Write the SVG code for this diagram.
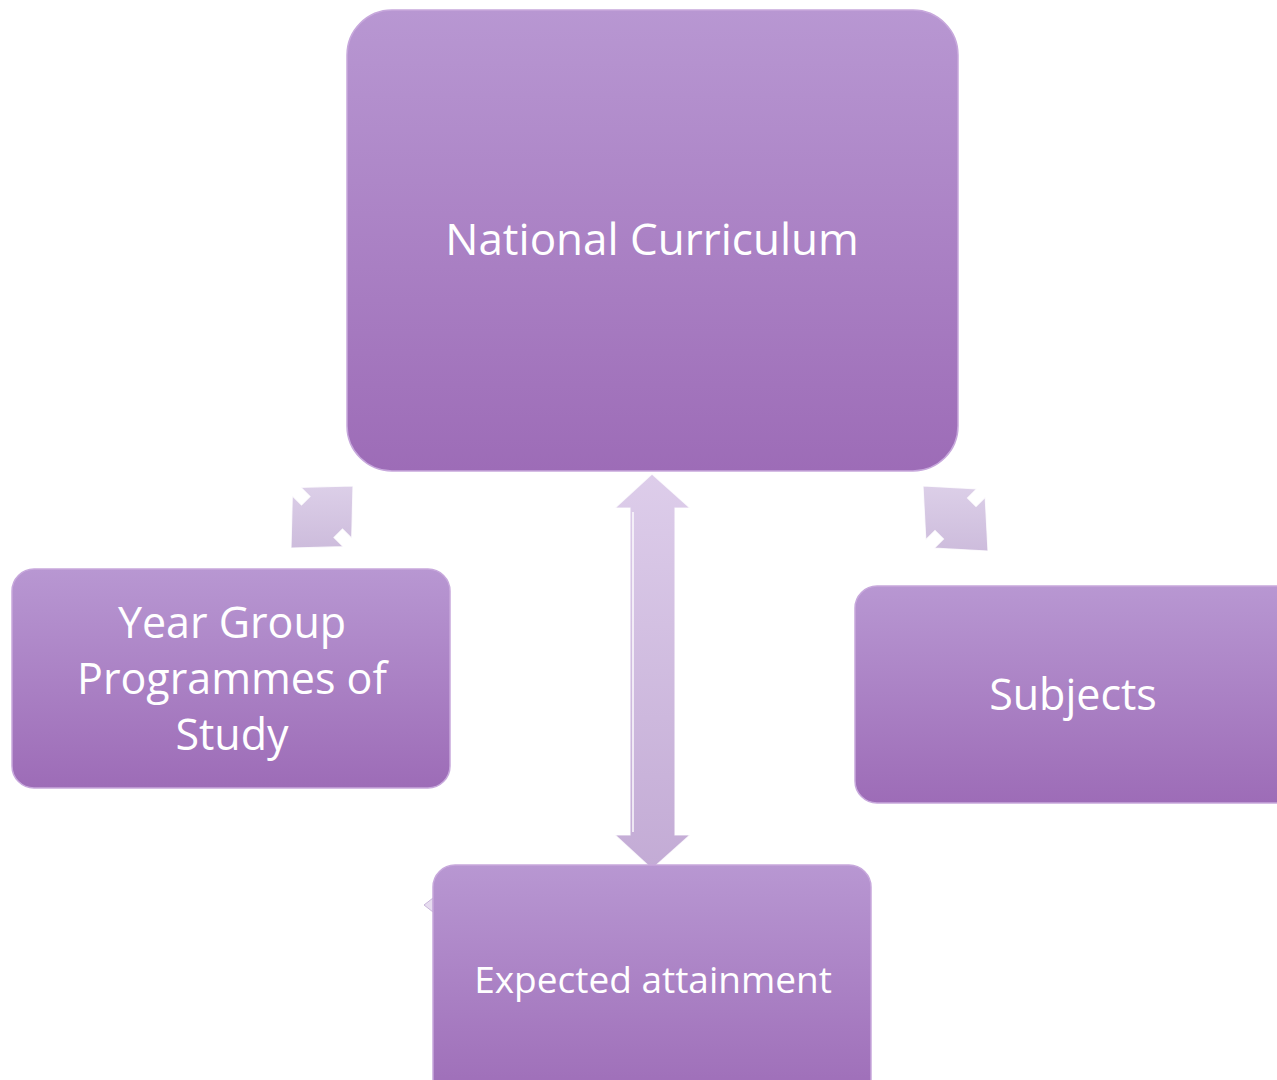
<svg xmlns="http://www.w3.org/2000/svg" width="1277" height="1080" viewBox="0 0 1277 1080">
<defs>
<linearGradient id="boxFill" x1="0" y1="0" x2="0" y2="1">
<stop offset="0" stop-color="#b897d2"/>
<stop offset="1" stop-color="#9d6cb7"/>
</linearGradient>
<linearGradient id="hl" x1="0" y1="0" x2="0" y2="1">
<stop offset="0" stop-color="#ffffff" stop-opacity="0.55"/>
<stop offset="1" stop-color="#ffffff" stop-opacity="0"/>
</linearGradient>
<linearGradient id="arrFill" x1="0" y1="0" x2="0" y2="1">
<stop offset="0" stop-color="#ddcdea"/>
<stop offset="1" stop-color="#c3abd5"/>
</linearGradient>
<linearGradient id="smallFill" x1="0" y1="0" x2="0" y2="1">
<stop offset="0" stop-color="#dccfe8"/>
<stop offset="1" stop-color="#cdbcdc"/>
</linearGradient>
</defs>
<style>
.box{fill:url(#boxFill);stroke:#c7a8dc;stroke-width:1.5}
.shine{fill:none;stroke:url(#hl);stroke-width:4}
.label{font-family:"Open Sans","Liberation Sans",sans-serif;font-size:43px;fill:#ffffff;text-anchor:middle}
.arrow{stroke:#ffffff;stroke-width:1.2;stroke-opacity:0.8}
</style>
<rect width="1277" height="1080" fill="#ffffff"/>
<g id="connectors">
<polygon class="arrow" fill="url(#arrFill)" points="652,474 690,508 675,508 675,835 690,835 652,869 615,835 630,835 630,508 615,508"/>
<line x1="633" y1="512" x2="633" y2="832" stroke="#ffffff" stroke-width="2" stroke-opacity="0.7"/>
<polygon class="arrow" fill="url(#smallFill)" points="353,486 351.7,538.2 342.5,529 334,537.5 343.2,546.7 291,548 292.3,495.8 301.5,505 310,496.5 300.8,487.3"/>
<polygon class="arrow" fill="url(#smallFill)" points="988,551 985.2,497.3 976,506.5 967.5,498 976.7,488.8 923,486 925.8,539.7 935,530.5 943.5,539 934.3,548.2"/>
<polygon fill="#e6dcef" stroke="#c9b6da" stroke-width="1" points="424,905 433,898 433,912"/>
</g>
<g id="node-national-curriculum">
<rect class="box" x="347" y="10" width="611" height="461" rx="45" ry="45"/>
<path class="shine" d="M392,14 H913"/>
<text class="label" x="652" y="255" style="font-size:44px">National Curriculum</text>
</g>
<g id="node-year-group">
<rect class="box" x="12" y="569" width="438" height="219" rx="22" ry="22"/>
<path class="shine" d="M34,573 H428"/>
<text class="label" x="232" y="638">Year Group</text>
<text class="label" x="232" y="694">Programmes of</text>
<text class="label" x="232" y="750">Study</text>
</g>
<g id="node-subjects">
<rect class="box" x="855" y="586" width="445" height="217" rx="22" ry="22"/>
<path class="shine" d="M877,590 H1277"/>
<text class="label" x="1073" y="710">Subjects</text>
</g>
<g id="node-expected-attainment">
<rect class="box" x="433" y="865" width="438" height="240" rx="22" ry="22"/>
<path class="shine" d="M455,869 H849"/>
<text class="label" x="653" y="993" style="font-size:37px">Expected attainment</text>
</g>
</svg>
